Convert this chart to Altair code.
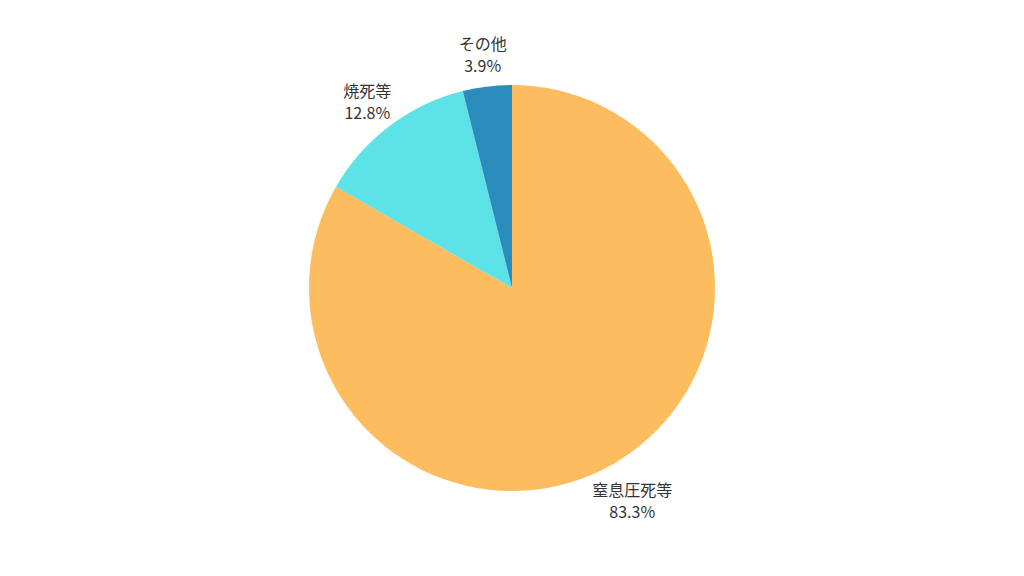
import altair as alt
import pandas as pd

categories = ["窒息圧死等", "焼死等", "その他"]
values = [83.3, 12.8, 3.9]
colors = ["#FDBC5D", "#5DE2E7", "#2B8CBE"]

df = pd.DataFrame({
    "name": categories,
    "value": values,
    "order": list(range(len(categories))),
})
df["label"] = [f"{n}\n{v:.1f}%" for n, v in zip(categories, values)]

base = alt.Chart(df).encode(
    theta=alt.Theta("value:Q", stack=True),
    order=alt.Order("order:Q"),
)

pie = base.mark_arc(outerRadius=203).encode(
    color=alt.Color("name:N", scale=alt.Scale(domain=categories, range=colors), legend=None)
)

text = base.mark_text(
    radius=240, lineBreak="\n", align="center", baseline="middle", dy=-5,
    font="Noto Sans CJK JP", fontSize=16, color="#333333", lineHeight=22,
).encode(text="label:N")

chart = (pie + text).properties(
    width=1008, height=560, padding=0,
    autosize=alt.AutoSizeParams(type="none"),
).configure_view(stroke=None)

chart.save("out.html", embed_options={"renderer": "svg", "actions": False})
